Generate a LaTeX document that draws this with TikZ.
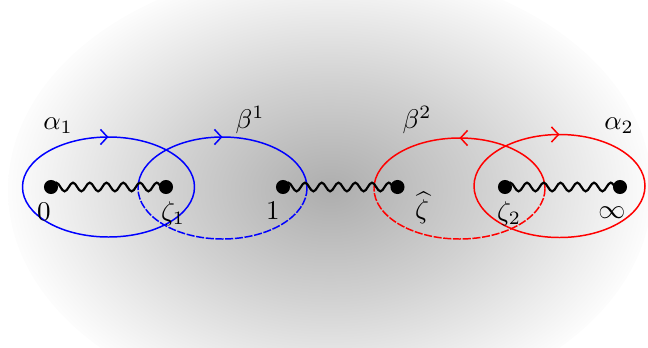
\documentclass[tikz,border=0pt]{standalone}
\usetikzlibrary{decorations.pathmorphing,decorations.markings,arrows.meta}
\pgfdeclareradialshading{bgshade}{\pgfpoint{0bp}{0bp}}{%
  color(0bp)=(black!32); color(12bp)=(black!18); color(25bp)=(black!1); color(50bp)=(black!1)}
\tikzset{
  dotnode/.style={circle,fill=black,inner sep=0pt,minimum size=5.2pt},
  wave/.style={decorate,decoration={snake,amplitude=1.6pt,segment length=6.2pt},line width=0.8pt},
  loop/.style={line width=0.55pt},
  halfdash/.style={dash pattern=on 3pt off 0.6pt},
  midarrow/.style={postaction={decorate,decoration={markings,
      mark=at position 0.5 with {\arrow{Straight Barb[length=2.6pt,width=5.6pt]}}}}},
  lab/.style={inner sep=0pt}
}
\begin{document}
\begin{tikzpicture}[x=0.37pt,y=0.37pt]
\useasboundingbox (0,0) rectangle (648,-347);
\clip (0,0) rectangle (648,-347);
\shade[shading=bgshade] (330,-190) ellipse [x radius=322, y radius=225];

% loops
% alpha_1
\draw[loop,blue,midarrow] (22.5,-187) arc[start angle=180,end angle=0,x radius=86,y radius=50];
\draw[loop,blue] (194.5,-187) arc[start angle=0,end angle=-180,x radius=86,y radius=50];
% beta^1
\draw[loop,blue,midarrow] (138,-188) arc[start angle=180,end angle=0,x radius=84.5,y radius=51];
\draw[loop,blue,halfdash] (307,-188) arc[start angle=0,end angle=-180,x radius=84.5,y radius=51];
% beta^2
\draw[loop,red,midarrow] (545,-188.5) arc[start angle=0,end angle=180,x radius=85.5,y radius=50.5];
\draw[loop,red,halfdash] (545,-188.5) arc[start angle=0,end angle=-180,x radius=85.5,y radius=50.5];
% alpha_2
\draw[loop,red,midarrow] (474,-186) arc[start angle=180,end angle=0,x radius=85.5,y radius=51.5];
\draw[loop,red] (645,-186) arc[start angle=0,end angle=-180,x radius=85.5,y radius=51.5];

% points
\node[dotnode] (p0) at (51,-187) {};
\node[dotnode] (pz1) at (166,-187) {};
\node[dotnode] (p1) at (283,-187) {};
\node[dotnode] (pzh) at (397.5,-187) {};
\node[dotnode] (pz2) at (505,-187) {};
\node[dotnode] (pinf) at (620,-187) {};

\draw[wave] (p0.center) -- (pz1.center);
\draw[wave] (p1.center) -- (pzh.center);
\draw[wave] (pz2.center) -- (pinf.center);

% labels
\node[lab] (l0) at (44,-212) {$0$};
\node[lab] (lz1) at (173,-214) {$\zeta_1$};
\node[lab] (l1) at (273,-211) {$1$};
\node[lab] (lzh) at (422,-208) {$\widehat{\zeta}$};
\node[lab] (lz2) at (509,-214) {$\zeta_2$};
\node[lab] (linf) at (612,-213) {$\infty$};
\node[lab] (la1) at (58,-126) {$\alpha_1$};
\node[lab] (lb1) at (250,-120) {$\beta^1$};
\node[lab] (lb2) at (417,-120) {$\beta^2$};
\node[lab] (la2) at (619,-126) {$\alpha_2$};
\end{tikzpicture}
\end{document}
